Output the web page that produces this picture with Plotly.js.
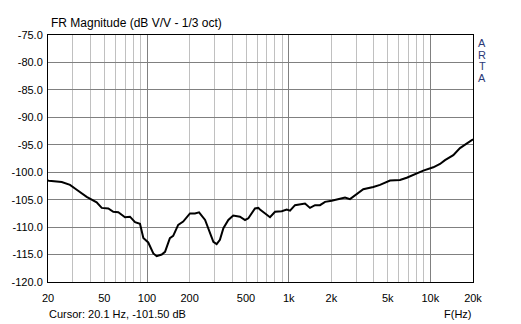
<!DOCTYPE html>
<html>
<head>
<meta charset="utf-8">
<script src="https://cdn.plot.ly/plotly-3.0.1.min.js"></script>
<style>
  html, body { margin: 0; padding: 0; background: #fff; }
  #chart { width: 521px; height: 324px; }
</style>
</head>
<body>
<div id="chart"></div>
<script>
// Frequency response (1/3 octave smoothed)
const freqHz = [20, 20.3, 25.0, 28.6, 31.9, 37.5, 44.1, 47.9, 53.3, 57.8, 62.7, 69.9, 75.8, 82.3, 89.2,
  94.2, 102, 110.8, 117, 127, 134, 145, 153, 166, 180, 201, 218, 233, 257, 271, 294, 310, 327, 346,
  375, 406, 453, 492, 519, 578, 610, 627, 680, 738, 801, 893, 968, 1022, 1108, 1235, 1304, 1414,
  1534, 1664, 1805, 2012, 2240, 2498, 2709, 3100, 3362, 3956, 4412, 5190, 6106, 6808, 7578, 8917,
  10490, 11700, 12690, 14520, 16190, 18060, 20000];
const magDb = [-101.5, -101.54, -101.8, -102.3, -103.2, -104.5, -105.5, -106.5, -106.6, -107.2, -107.3,
  -108.2, -108.1, -109.1, -109.4, -112.0, -112.8, -114.8, -115.3, -115.0, -114.5, -112.0, -111.6,
  -109.6, -109.0, -107.5, -107.5, -107.3, -108.7, -110.2, -112.7, -113.1, -112.3, -110.2, -108.7,
  -107.9, -108.1, -108.7, -108.4, -106.6, -106.5, -106.8, -107.5, -108.2, -107.2, -107.1, -106.8,
  -107.0, -106.0, -105.8, -105.7, -106.5, -106.0, -106.0, -105.4, -105.2, -104.9, -104.6, -104.9,
  -103.7, -103.1, -102.7, -102.3, -101.5, -101.4, -101.0, -100.5, -99.7, -99.1, -98.5, -97.8,
  -96.9, -95.6, -94.8, -94.0];

const xTickVals = [20, 50, 100, 200, 500, 1000, 2000, 5000, 10000, 20000];
const xTickText = ['20', '50', '100', '200', '500', '1k', '2k', '5k', '10k', '20k'];
const xMinorGrid = [30, 40, 50, 60, 70, 80, 90, 200, 300, 400, 500, 600, 700, 800, 900,
  2000, 3000, 4000, 5000, 6000, 7000, 8000, 9000];
const xMajorGrid = [100, 1000, 10000];
const yTickVals = [-120, -115, -110, -105, -100, -95, -90, -85, -80, -75];
const yTickText = ['-120.0', '-115.0', '-110.0', '-105.0', '-100.0', '-95.0', '-90.0', '-85.0', '-80.0', '-75.0'];
const brandLetters = ['A', 'R', 'T', 'A'];

const FONT = 'Liberation Sans, Arial, sans-serif';
const xRange = [Math.log10(20), Math.log10(20000)];

const traces = [
  { x: [], y: [], xaxis: 'x2', yaxis: 'y', type: 'scatter', mode: 'lines', showlegend: false, hoverinfo: 'skip' },
  { x: freqHz, y: magDb, type: 'scatter', mode: 'lines', line: { color: '#000000', width: 2 },
    showlegend: false, hoverinfo: 'skip' }
];

const annotations = [
  { xref: 'paper', yref: 'paper', x: 0, y: 1, xanchor: 'left', yanchor: 'bottom', xshift: 1, yshift: 3,
    text: 'FR Magnitude (dB V/V - 1/3 oct)', showarrow: false, font: { family: FONT, size: 12, color: '#000' } },
  { xref: 'paper', yref: 'paper', x: 0, y: 0, xanchor: 'left', yanchor: 'middle', xshift: -1, yshift: -32,
    text: 'Cursor: 20.1 Hz, -101.50 dB', showarrow: false, font: { family: FONT, size: 11, color: '#000' } },
  { xref: 'paper', yref: 'paper', x: 1, y: 0, xanchor: 'right', yanchor: 'middle', xshift: 1, yshift: -32,
    text: 'F(Hz)', showarrow: false, font: { family: FONT, size: 11, color: '#000' } }
];
brandLetters.forEach((ch, i) => {
  annotations.push({ xref: 'paper', yref: 'paper', x: 1, y: 1, xanchor: 'center', yanchor: 'middle',
    xshift: 9, yshift: -8 - i * 11.5, text: ch, showarrow: false,
    font: { family: FONT, size: 11, color: '#2c3a78' } });
});

const layout = {
  width: 521, height: 324,
  margin: { l: 48, r: 48, t: 35, b: 42, pad: 0 },
  paper_bgcolor: '#ffffff', plot_bgcolor: '#ffffff',
  showlegend: false,
  xaxis: {
    type: 'log', range: xRange, tickmode: 'array', tickvals: xTickVals, ticktext: xTickText,
    showgrid: false, zeroline: false, ticks: '', ticklabelstandoff: 6,
    tickfont: { family: FONT, size: 11, color: '#000' },
    minor: { tickmode: 'array', tickvals: xMinorGrid, showgrid: true, gridcolor: '#c0c0c0', gridwidth: 1, ticks: '' },
    showline: true, linecolor: '#000', linewidth: 1, mirror: true
  },
  xaxis2: {
    type: 'log', range: xRange, overlaying: 'x', tickmode: 'array', tickvals: xMajorGrid,
    showticklabels: false, showgrid: true, gridcolor: '#808080', gridwidth: 1, zeroline: false, ticks: ''
  },
  yaxis: {
    range: [-120, -75], tickmode: 'array', tickvals: yTickVals, ticktext: yTickText,
    showgrid: true, gridcolor: '#808080', gridwidth: 1, zeroline: false, ticks: '', ticklabelstandoff: 2,
    tickfont: { family: FONT, size: 11, color: '#000' },
    showline: true, linecolor: '#000', linewidth: 1, mirror: true
  },
  annotations: annotations
};

Plotly.newPlot('chart', traces, layout, { staticPlot: true, displayModeBar: false });
</script>
</body>
</html>
